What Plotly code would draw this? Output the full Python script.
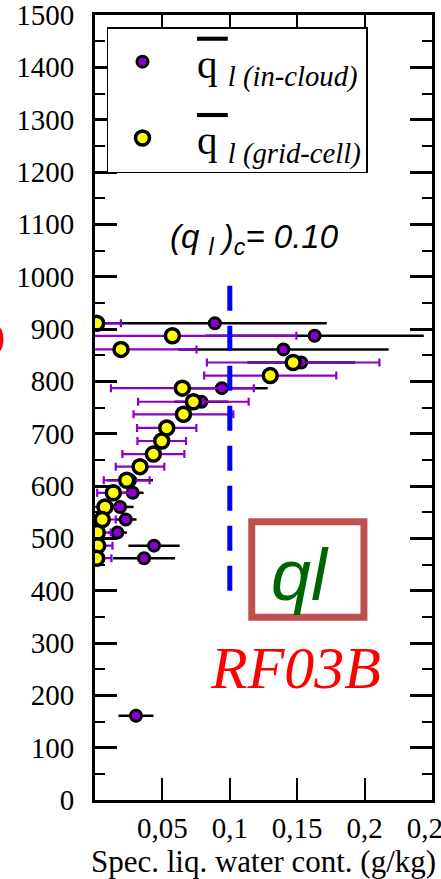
import plotly.graph_objects as go

# ---- data ----
# grid-cell mean liquid water (yellow markers, purple error bars)
grid_alt = [911, 887, 861, 836, 811, 787, 761, 737, 711, 686, 661, 637, 611, 587, 560, 536, 511, 486, 462]
grid_q = [0.0012, 0.0574, 0.0193, 0.147, 0.130, 0.0648, 0.073, 0.0656, 0.0532, 0.0495,
          0.0433, 0.0334, 0.0235, 0.0136, 0.0074, 0.0054, 0.0017, 0.0020, 0.0012]
grid_err = [0.018, 0.092, 0.056, 0.064, 0.049, 0.053, 0.041, 0.037, 0.022, 0.018,
            0.023, 0.018, 0.017, 0.012, 0.010, 0.010, 0.010, 0.011, 0.011]

# in-cloud mean liquid water (purple markers, black error bars)
cloud_alt = [911, 887, 861, 836, 787, 761, 611, 587, 560, 536, 511, 486, 462, 161]
cloud_q = [0.0889, 0.1629, 0.1398, 0.153, 0.0941, 0.079, 0.026, 0.028, 0.0186, 0.0228,
           0.0166, 0.0438, 0.0364, 0.0304]
cloud_err = [0.083, 0.081, 0.078, 0.040, 0.034, 0.020, 0.017, 0.008, 0.010, 0.008,
             0.007, 0.019, 0.023, 0.013]

threshold = 0.10
threshold_alt = [400, 985]

x_tickvals = [0.05, 0.10, 0.15, 0.20, 0.25]
x_ticktext = ["0,05", "0,1", "0,15", "0,2", "0,25"]

PURPLE = "#8A00CC"
SERIF = "Liberation Serif"
SANS = "Liberation Sans"
NB = "\u00a0"


def legend_name(sub):
    return (NB * 2
            + "<span style='text-decoration:overline'>q" + NB + "</span>"
            + "<sub><i>l " + sub + "</i></sub>")


fig = go.Figure()

fig.add_trace(go.Scatter(
    x=cloud_q, y=cloud_alt, mode="markers",
    name=legend_name("(in-cloud)"),
    marker=dict(color=PURPLE, size=11, line=dict(color="black", width=3)),
    error_x=dict(type="data", array=cloud_err, symmetric=True, color="black", thickness=2.5, width=0),
    legendgroup="a",
))

fig.add_trace(go.Scatter(
    x=grid_q, y=grid_alt, mode="markers",
    name=legend_name("(grid-cell)"),
    marker=dict(color="#FFFF00", size=14, line=dict(color="black", width=3.5)),
    error_x=dict(type="data", array=grid_err, symmetric=True, color=PURPLE, thickness=2.2, width=4),
    legendgroup="b",
))

fig.add_shape(type="line", xref="x", yref="y", x0=threshold, x1=threshold,
              y0=threshold_alt[0], y1=threshold_alt[1],
              line=dict(color="#0000FF", width=5, dash="25px,15px"))

# "ql" box
fig.add_shape(type="rect", xref="x", yref="y", x0=0.1163, x1=0.1995, y0=349, y1=531.6,
              line=dict(color="#C0504D", width=7), fillcolor="white", layer="above")

fig.add_annotation(x=0.118, y=1072, xref="x", yref="y", showarrow=False,
                   text="<i>(q" + NB + "<sub>l</sub>" + NB + ")<sub>c</sub>= 0.10</i>",
                   font=dict(family=SANS, size=33, color="black"))
fig.add_annotation(x=0.1522, y=430, xref="x", yref="y", showarrow=False,
                   text="<i>ql</i>", font=dict(family=SANS, size=72, color="#006400"))
fig.add_annotation(x=0.1485, y=252, xref="x", yref="y", showarrow=False,
                   text="<i>RF03B</i>", font=dict(family=SERIF, size=60, color="#FF0000"))
fig.add_annotation(x=-0.262, y=887, xref="paper", yref="y", xanchor="right", showarrow=False,
                   text=")", font=dict(family=SERIF, size=36, color="#FF0000"))

fig.update_layout(
    width=441, height=879,
    margin=dict(l=95, r=9, t=15, b=79, autoexpand=False),
    paper_bgcolor="white", plot_bgcolor="white",
    font=dict(family=SERIF, color="black", size=29),
    showlegend=True,
    legend=dict(
        x=0.0356, y=0.9847, xanchor="left", yanchor="top",
        bgcolor="white", bordercolor="black", borderwidth=1.5,
        font=dict(family=SERIF, size=41, color="black"),
        itemsizing="trace", itemwidth=58, tracegroupgap=20,
    ),
    xaxis=dict(
        range=[0, 0.25], showgrid=False, zeroline=False, automargin=False,
        showline=True, linecolor="black", linewidth=3, mirror="ticks",
        ticks="inside", ticklen=22, tickwidth=2, tickcolor="black",
        tickvals=x_tickvals, ticktext=x_ticktext,
        tickfont=dict(family=SERIF, size=29, color="black"),
        ticklabeloverflow="allow",
        title=dict(text="Spec. liq. water cont. (g/kg)", standoff=4,
                   font=dict(family=SERIF, size=31, color="black")),
    ),
    yaxis=dict(
        range=[0, 1500], dtick=100, showgrid=False, zeroline=False, automargin=False,
        showline=True, linecolor="black", linewidth=3, mirror="ticks",
        ticks="inside", ticklen=22, tickwidth=3, tickcolor="black",
        minor=dict(ticks="inside", ticklen=10, tickwidth=2, dtick=50, tickcolor="black"),
        tickfont=dict(family=SERIF, size=29, color="black"),
        ticklabeloverflow="allow",
        ticklabelstandoff=12,
    ),
)

fig.write_html("out.html")
